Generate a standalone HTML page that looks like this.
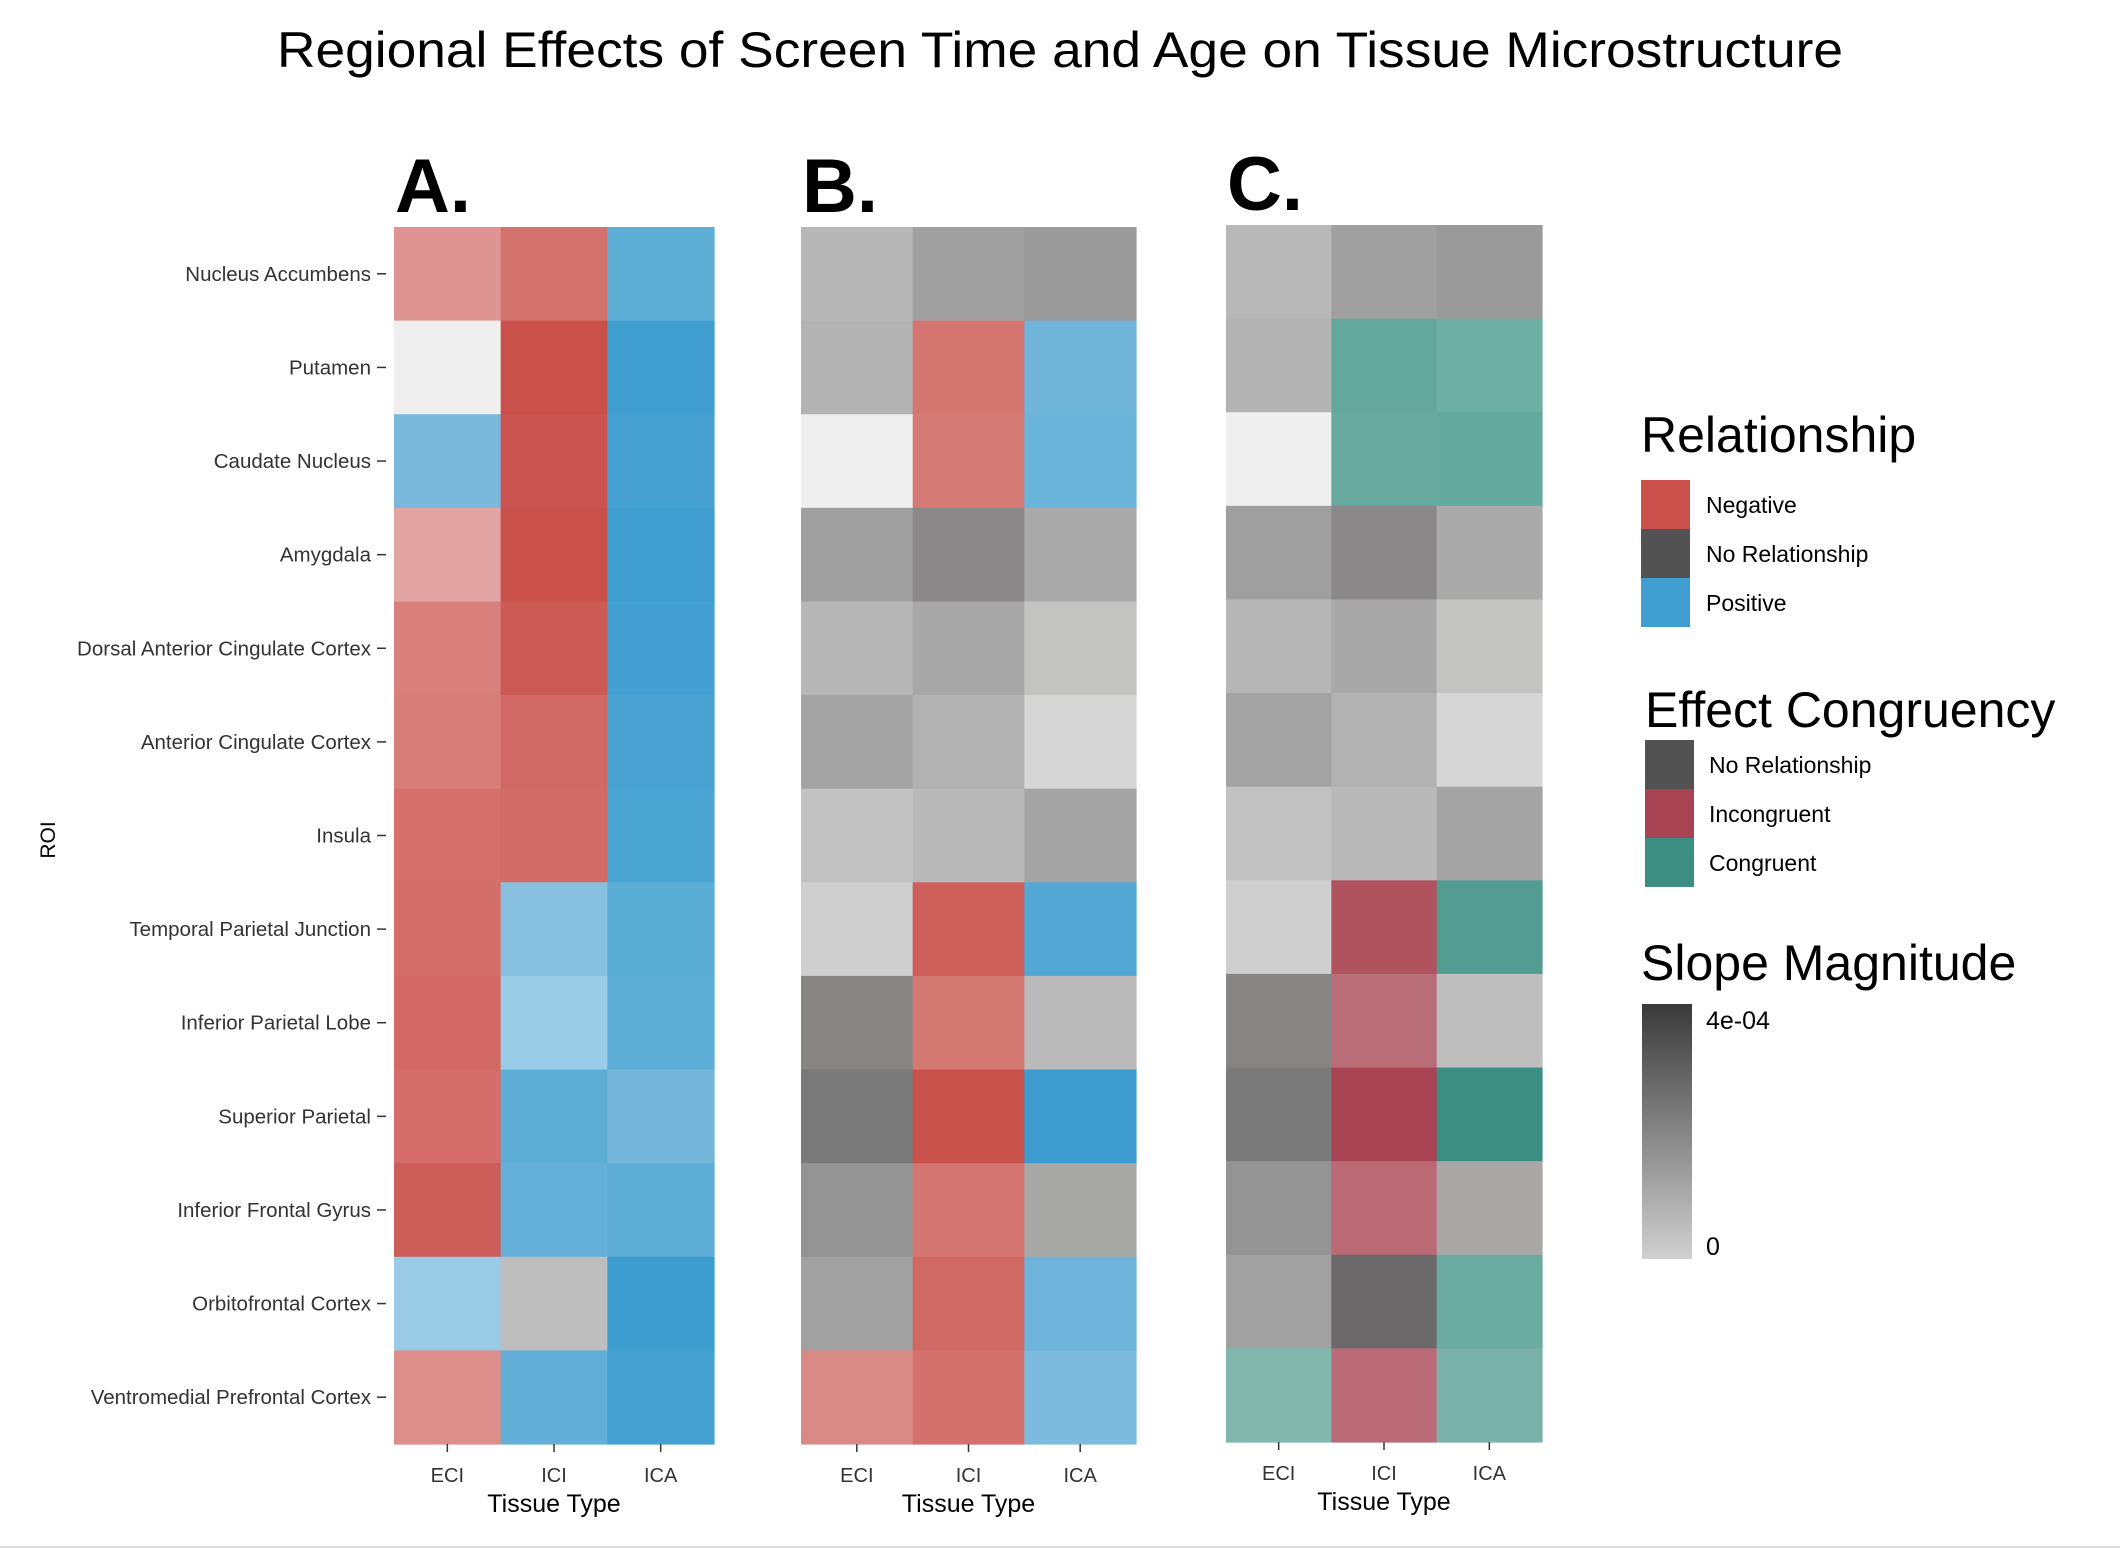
<!DOCTYPE html>
<html><head><meta charset="utf-8">
<style>html,body{margin:0;padding:0;background:#fff;}svg{display:block;font-family:"Liberation Sans",sans-serif;}</style>
</head><body>
<svg id="chart" width="2120" height="1548" viewBox="0 0 2120 1548" xmlns="http://www.w3.org/2000/svg">
<rect width="2120" height="1548" fill="#fff"/>
<text x="1060" y="67" text-anchor="middle" font-size="50" textLength="1566" lengthAdjust="spacingAndGlyphs" fill="#000">Regional Effects of Screen Time and Age on Tissue Microstructure</text>
<g id="panels"></g>
<text transform="translate(55,840) rotate(-90)" text-anchor="middle" font-size="21" fill="#000">ROI</text>
<g>
<text x="1641" y="452" font-size="50" fill="#000">Relationship</text>
<rect x="1641" y="480" width="49" height="49" fill="#c9504b"/>
<rect x="1641" y="529" width="49" height="49" fill="#525252"/>
<rect x="1641" y="578" width="49" height="49" fill="#3f9ecf"/>
<text x="1706" y="513" font-size="23">Negative</text>
<text x="1706" y="562" font-size="23">No Relationship</text>
<text x="1706" y="611" font-size="23">Positive</text>
</g>
<g>
<text x="1645" y="727" font-size="50" fill="#000">Effect Congruency</text>
<rect x="1645" y="740" width="49" height="49" fill="#525252"/>
<rect x="1645" y="789" width="49" height="49" fill="#a84354"/>
<rect x="1645" y="838" width="49" height="49" fill="#3b8e81"/>
<text x="1709" y="773" font-size="23">No Relationship</text>
<text x="1709" y="822" font-size="23">Incongruent</text>
<text x="1709" y="871" font-size="23">Congruent</text>
</g>
<defs><linearGradient id="sg" x1="0" y1="1" x2="0" y2="0"><stop offset="0" stop-color="#d0d0d0"/><stop offset="1" stop-color="#3a3a3a"/></linearGradient></defs>
<g>
<text x="1641" y="980" font-size="50" fill="#000">Slope Magnitude</text>
<rect x="1642" y="1004" width="50" height="255" fill="url(#sg)"/>
<text x="1706" y="1029" font-size="25">4e-04</text>
<text x="1706" y="1255" font-size="25">0</text>
</g>
<rect x="0" y="1546" width="2120" height="2" fill="#dddddd"/>
</svg>
<script>
const rois = ["Nucleus Accumbens","Putamen","Caudate Nucleus","Amygdala","Dorsal Anterior Cingulate Cortex","Anterior Cingulate Cortex","Insula","Temporal Parietal Junction","Inferior Parietal Lobe","Superior Parietal","Inferior Frontal Gyrus","Orbitofrontal Cortex","Ventromedial Prefrontal Cortex"];
const tissues = ["ECI","ICI","ICA"];
const panelLabels = ["A.","B.","C."];
const colorsA = [
["#de9490","#d4736e","#5eaed6"],["#efefef","#c9504b","#3f9ecf"],["#7ab8dc","#cc5450","#47a2d3"],
["#e3a5a3","#c9504b","#3f9ecf"],["#d9807c","#cc5a55","#44a0d2"],["#d87e79","#d06965","#4aa3d3"],
["#d5706b","#d26b66","#4aa5d2"],["#d46e69","#88c0e0","#5aaed6"],["#d36965","#99cce6","#5daed6"],
["#d46d69","#5dadd5","#74b5da"],["#cd5d58","#64b0d8","#5eadd6"],["#99cbe6","#bebebe","#3e9dcf"],
["#dc8e8b","#64afd7","#44a1d2"]];
const colorsB = [
["#b7b7b7","#a0a0a0","#9b9b9b"],["#b4b3b4","#d47570","#70b4da"],["#efefef","#d67a76","#6ab4da"],
["#a09fa0","#8a8889","#aaaaaa"],["#b7b7b7","#a8a8a8","#c3c3c2"],["#a4a3a4","#b2b2b2","#d6d6d6"],
["#c2c2c2","#b9b9b9","#a5a4a5"],["#cfcfcf","#ce5f5a","#52a7d5"],["#868584","#d47872","#bbbbbb"],
["#7b7a7a","#c8514b","#3d9bcf"],["#949494","#d47571","#a8a8a7"],["#a1a1a1","#d06864","#6db3da"],
["#da8a86","#d4716c","#7cbade"]];
const colorsC = [
["#b8b8b8","#a1a0a0","#9b9a9a"],["#b4b3b4","#64a89b","#6faea3"],["#efefef","#68aa9e","#65a89d"],
["#a09fa0","#8a8889","#aaaaaa"],["#b7b7b7","#a8a8a8","#c3c3c2"],["#a4a3a4","#b2b2b2","#d6d6d6"],
["#c2c2c2","#b9b9b9","#a5a4a5"],["#cfcfcf","#b0535f","#539c91"],["#868584","#b96d78","#bfbebe"],
["#7b7a7a","#a84354","#3b8e81"],["#949494","#ba6975","#a9a8a7"],["#a1a1a1","#6b696a","#6baba0"],
["#80b6ac","#ba6b77","#7ab2aa"]];
const NS="http://www.w3.org/2000/svg";
const g=document.getElementById("panels");
const panels=[{x0:394,x1:714,y0:227,y1:1444,c:colorsA,showY:true},{x0:801,x1:1136,y0:227,y1:1444,c:colorsB,showY:false},{x0:1226,x1:1542,y0:225,y1:1442,c:colorsC,showY:false}];
function mk(tag,attrs){const e=document.createElementNS(NS,tag);for(const k in attrs)e.setAttribute(k,attrs[k]);return e;}
panels.forEach((p,pi)=>{
  const cw=(p.x1-p.x0)/tissues.length, rh=(p.y1-p.y0)/rois.length;
  const xs=i=>p.x0+i*cw, ys=j=>p.y0+j*rh;
  const lab=mk("text",{x:p.x0+1,y:p.y0-15,"font-size":76,"font-weight":"bold"});
  
  
  lab.textContent=panelLabels[pi];g.appendChild(lab);
  rois.forEach((r,j)=>{tissues.forEach((t,i)=>{
    const rc=mk("rect",{x:xs(i),y:ys(j),width:cw+0.6,height:rh+0.6,fill:p.c[j][i]});
    
    
    g.appendChild(rc);});
    if(p.showY){
      const yc=ys(j)+rh/2;
      const tl=mk("text",{x:371,y:yc+7,"text-anchor":"end","font-size":20.5,fill:"#333"});
      
      
      tl.textContent=r;g.appendChild(tl);
      const tk=mk("line",{x1:377,x2:386,y1:yc,y2:yc,stroke:"#333","stroke-width":1.5});
      
      
      g.appendChild(tk);
    }
  });
  tissues.forEach((t,i)=>{
    const xc=xs(i)+cw/2;
    const tk=mk("line",{x1:xc,x2:xc,y1:p.y1,y2:p.y1+8,stroke:"#333","stroke-width":1.5});
    
    
    g.appendChild(tk);
    const tl=mk("text",{x:xc,y:p.y1+38,"text-anchor":"middle","font-size":20,fill:"#333"});
    
    
    tl.textContent=t;g.appendChild(tl);
  });
  const xt=mk("text",{x:(p.x0+p.x1)/2,y:p.y1+68,"text-anchor":"middle","font-size":25,fill:"#000"});
  
  
  xt.textContent="Tissue Type";g.appendChild(xt);
});
</script>
</body></html>
